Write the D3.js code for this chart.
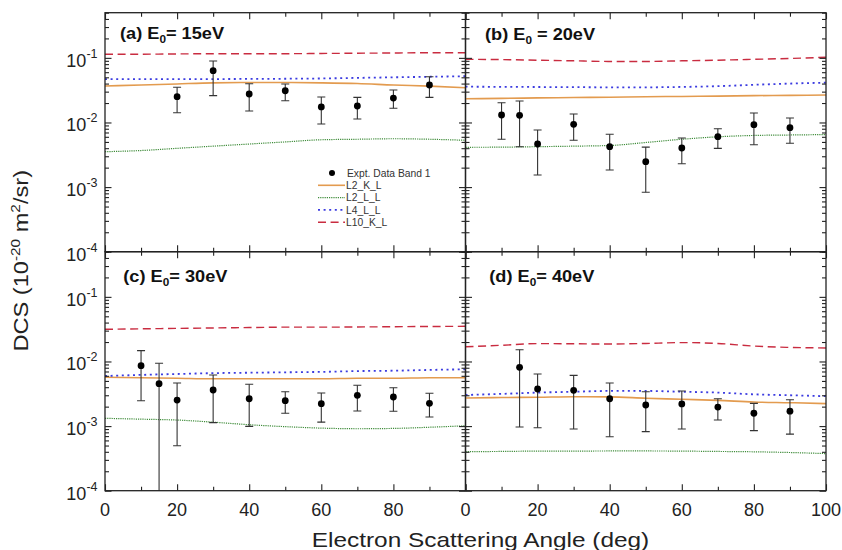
<!DOCTYPE html>
<html>
<head>
<meta charset="utf-8">
<script src="https://cdn.jsdelivr.net/npm/d3@7"></script>
<style>
  body { margin: 0; background: #fff; }
  svg { display: block; font-family: "Liberation Sans", Arial, Helvetica, sans-serif; }
</style>
</head>
<body>
<svg id="chart" width="842" height="550"></svg>
<script>
// ---- Measured DCS (10^-20 m^2/sr), band 1, with error-bar limits ----
const anglesA = [20, 30, 40, 50, 60, 70, 80, 90];
const dcsA    = [0.0251, 0.0633, 0.0276, 0.031, 0.0174, 0.018, 0.0239, 0.038];
const errHiA  = [0.035, 0.0894, 0.0398, 0.0394, 0.0248, 0.0245, 0.0318, 0.051];
const errLoA  = [0.01416, 0.026, 0.01506, 0.0217, 0.00946, 0.0113, 0.01656, 0.0245];

const anglesB = [10, 15, 20, 30, 40, 50, 60, 70, 80, 90];
const dcsB    = [0.01305, 0.0129, 0.00464, 0.00937, 0.00422, 0.00247, 0.00403, 0.00602, 0.00924, 0.0083];
const errHiB  = [0.0202, 0.0215, 0.00764, 0.0135, 0.00656, 0.00416, 0.00575, 0.00801, 0.014, 0.0117];
const errLoB  = [0.0055, 0.00422, 0.00154, 0.0053, 0.00184, 0.00083, 0.0023, 0.00398, 0.00453, 0.00476];

const anglesC = [10, 15, 20, 30, 40, 50, 60, 70, 80, 90];
const dcsC    = [0.00861, 0.00453, 0.00253, 0.00362, 0.00265, 0.00247, 0.00222, 0.00299, 0.00282, 0.00225];
const errHiC  = [0.0147, 0.00937, 0.00464, 0.00618, 0.00443, 0.0034, 0.00325, 0.00428, 0.00393, 0.00322];
const errLoC  = [0.00247, 0.00005, 0.000497, 0.00113, 0.00099, 0.00158, 0.00115, 0.00171, 0.0017, 0.00138];

const anglesD = [15, 20, 30, 40, 50, 60, 70, 80, 90];
const dcsD    = [0.00813, 0.00375, 0.00358, 0.00265, 0.00212, 0.0022, 0.00197, 0.00158, 0.0017];
const errHiD  = [0.0152, 0.0064, 0.0061, 0.00464, 0.0034, 0.00349, 0.00265, 0.00225, 0.00256];
const errLoD  = [0.00097, 0.00094, 0.0009, 0.000685, 0.00082, 0.0009, 0.00124, 0.00085, 0.00075];

// ---- Model curves, sampled every 10 deg from 0 to 100 ----
const thetaGrid = [0, 10, 20, 30, 40, 50, 60, 70, 80, 90, 100];

const l2klA  = [0.0367, 0.038, 0.0395, 0.041, 0.0415, 0.0415, 0.041, 0.040, 0.038, 0.0365, 0.0345];
const l2llA  = [0.00353, 0.00368, 0.00398, 0.0043, 0.00464, 0.0050, 0.0054, 0.0055, 0.0056, 0.0055, 0.0053];
const l4llA  = [0.047, 0.047, 0.047, 0.047, 0.0472, 0.0475, 0.048, 0.049, 0.050, 0.051, 0.052];
const l10klA = [0.1135, 0.114, 0.115, 0.116, 0.116, 0.116, 0.117, 0.118, 0.119, 0.12, 0.12];

const l2klB  = [0.0233, 0.0236, 0.024, 0.0243, 0.0246, 0.025, 0.0253, 0.0256, 0.026, 0.0263, 0.0266];
const l2llB  = [0.00413, 0.00415, 0.00422, 0.0043, 0.0044, 0.0049, 0.0055, 0.0060, 0.0063, 0.0064, 0.0065];
const l4llB  = [0.0358, 0.0356, 0.0354, 0.0352, 0.035, 0.035, 0.0355, 0.0365, 0.0383, 0.040, 0.0413];
const l10klB = [0.095, 0.094, 0.092, 0.09, 0.088, 0.088, 0.09, 0.092, 0.095, 0.098, 0.102];

const l2klC  = [0.0057, 0.0056, 0.0055, 0.0054, 0.0054, 0.0054, 0.0054, 0.0055, 0.0055, 0.0056, 0.0056];
const l2llC  = [0.00132, 0.00128, 0.00124, 0.00115, 0.00105, 0.00098, 0.00093, 0.00091, 0.00092, 0.00096, 0.00101];
const l4llC  = [0.00596, 0.0062, 0.0064, 0.0066, 0.0067, 0.0068, 0.0069, 0.0071, 0.0072, 0.0074, 0.00757];
const l10klC = [0.0315, 0.032, 0.0325, 0.033, 0.0335, 0.034, 0.034, 0.0342, 0.0345, 0.0348, 0.035];

const l2klD  = [0.00272, 0.00277, 0.0028, 0.00285, 0.00283, 0.0027, 0.0026, 0.0025, 0.00236, 0.0023, 0.00223];
const l2llD  = [0.000402, 0.000405, 0.00041, 0.00041, 0.000412, 0.000412, 0.00041, 0.000405, 0.0004, 0.00039, 0.000375];
const l4llD  = [0.00303, 0.00315, 0.0033, 0.0034, 0.0035, 0.0035, 0.0034, 0.0033, 0.0031, 0.003, 0.0029];
const l10klD = [0.0169, 0.0178, 0.0189, 0.0188, 0.0186, 0.019, 0.0196, 0.019, 0.0173, 0.0165, 0.0162];

const modelNames = ["L2_K_L", "L2_L_L", "L4_L_L", "L10_K_L"];
const exptName = "Expt. Data Band 1";
const panelTitles = [
  ["(a) E", "0", "= 15eV"],
  ["(b) E", "0", " = 20eV"],
  ["(c) E", "0", "= 30eV"],
  ["(d) E", "0", "= 40eV"]
];
const xDomain = [0, 100];
const yDomain = [1e-4, 0.5];
const xMajorTicks = [0, 20, 40, 60, 80, 100];
const xMinorTicks = [10, 30, 50, 70, 90];
const xTitle = "Electron Scattering Angle (deg)";

// ---- layout ----
const colX = [[105, 465.5], [465.5, 826]];
const rowY = [[12.7, 251.7], [251.7, 490.7]];
const titleOffset = [[15, 26.6], [19.5, 27.3], [18.3, 30], [23.8, 30]];

const modelStyle = [
  { stroke: "#e39b4f", width: 1.6, dash: null },
  { stroke: "#3f8c3a", width: 1.2, dash: "1.2,1" },
  { stroke: "#3b3be0", width: 1.8, dash: "2,3.6" },
  { stroke: "#c92c40", width: 1.4, dash: "8,4.6" }
];

const panels = [
  { col: 0, row: 0, angles: anglesA, dcs: dcsA, hi: errHiA, lo: errLoA, models: [l2klA, l2llA, l4llA, l10klA] },
  { col: 1, row: 0, angles: anglesB, dcs: dcsB, hi: errHiB, lo: errLoB, models: [l2klB, l2llB, l4llB, l10klB] },
  { col: 0, row: 1, angles: anglesC, dcs: dcsC, hi: errHiC, lo: errLoC, models: [l2klC, l2llC, l4llC, l10klC] },
  { col: 1, row: 1, angles: anglesD, dcs: dcsD, hi: errHiD, lo: errLoD, models: [l2klD, l2llD, l4llD, l10klD] }
];

const svg = d3.select("#chart");
const defs = svg.append("defs");
const ink = "#222";

panels.forEach((p, i) => {
  const [x0, x1] = colX[p.col];
  const [y0, y1] = rowY[p.row];
  const x = d3.scaleLinear().domain(xDomain).range([x0, x1]);
  const y = d3.scaleLog().domain(yDomain).range([y1, y0]);
  const g = svg.append("g");

  defs.append("clipPath").attr("id", "clip" + i)
    .append("rect").attr("x", x0).attr("y", y0).attr("width", x1 - x0).attr("height", y1 - y0);
  const plot = g.append("g").attr("clip-path", `url(#clip${i})`);

  // model curves
  p.models.forEach((vals, m) => {
    const st = modelStyle[m];
    const line = d3.line()
      .x((d, k) => x(thetaGrid[k]))
      .y(d => y(d))
      .curve(d3.curveMonotoneX);
    plot.append("path")
      .attr("d", line(vals))
      .attr("fill", "none")
      .attr("stroke", st.stroke)
      .attr("stroke-width", st.width)
      .attr("stroke-dasharray", st.dash);
  });

  // error bars
  const capW = 4;
  const eb = plot.append("g").attr("stroke", "#333").attr("stroke-width", 1.1);
  p.angles.forEach((a, k) => {
    const cx = x(a);
    eb.append("line").attr("x1", cx).attr("x2", cx).attr("y1", y(p.hi[k])).attr("y2", y(p.lo[k]));
    eb.append("line").attr("x1", cx - capW).attr("x2", cx + capW).attr("y1", y(p.hi[k])).attr("y2", y(p.hi[k]));
    eb.append("line").attr("x1", cx - capW).attr("x2", cx + capW).attr("y1", y(p.lo[k])).attr("y2", y(p.lo[k]));
  });

  // data points
  plot.selectAll("circle.pt").data(p.angles).join("circle")
    .attr("class", "pt")
    .attr("cx", d => x(d))
    .attr("cy", (d, k) => y(p.dcs[k]))
    .attr("r", 3.4)
    .attr("fill", "#000");

  // inward ticks on all four sides
  const yAll = y.ticks();
  const isDecade = v => Math.abs(Math.log10(v) - Math.round(Math.log10(v))) < 1e-9;
  const yMajor = yAll.filter(isDecade);
  const yMinor = yAll.filter(v => !isDecade(v));
  const tickAxes = [
    [d3.axisBottom(x), `translate(0,${y1})`, xMajorTicks, xMinorTicks],
    [d3.axisTop(x), `translate(0,${y0})`, xMajorTicks, xMinorTicks],
    [d3.axisLeft(y), `translate(${x0},0)`, yMajor, yMinor],
    [d3.axisRight(y), `translate(${x1},0)`, yMajor, yMinor]
  ];
  tickAxes.forEach(([ax, tr, major, minor]) => {
    [[major, 6.5], [minor, 4]].forEach(([vals, len]) => {
      const ag = g.append("g").attr("transform", tr)
        .call(ax.tickValues(vals).tickSize(-len).tickFormat(""));
      ag.select(".domain").remove();
      ag.selectAll("line").attr("stroke", ink).attr("stroke-width", 1.1);
    });
  });

  // frame
  g.append("rect").attr("x", x0).attr("y", y0).attr("width", x1 - x0).attr("height", y1 - y0)
    .attr("fill", "none").attr("stroke", ink).attr("stroke-width", 1.3);

  // y tick labels (left column only)
  if (p.col === 0) {
    yMajor.forEach(v => {
      const t = g.append("text")
        .attr("x", 97.5).attr("y", y(v) + 9)
        .attr("text-anchor", "end")
        .attr("font-size", 18).attr("fill", "#222");
      t.append("tspan").text("10");
      t.append("tspan").attr("font-size", 12.5).attr("dy", -9).text(String(Math.round(Math.log10(v))));
    });
  }

  // x tick labels (bottom row only)
  if (p.row === 1) {
    const labs = p.col === 0 ? xMajorTicks.slice(0, -1) : xMajorTicks;
    labs.forEach(v => {
      g.append("text").attr("x", x(v)).attr("y", 516)
        .attr("text-anchor", "middle").attr("font-size", 18).attr("fill", "#222")
        .text(v);
    });
  }

  // panel title, slightly widened
  const [tpre, tsub, tpost] = panelTitles[i];
  const tt = g.append("text")
    .attr("transform", `translate(${x0 + titleOffset[i][0]},${y0 + titleOffset[i][1]}) scale(1.07,1)`)
    .attr("font-size", 17).attr("font-weight", "bold").attr("fill", "#111");
  tt.append("tspan").text(tpre);
  tt.append("tspan").attr("font-size", 11).attr("dy", 4).text(tsub);
  tt.append("tspan").attr("dy", -4).text(tpost);

  // legend in the first panel
  if (i === 0) {
    const lg = g.append("g").attr("font-size", 10.3).attr("fill", "#333");
    const rowsY = [173, 185.3, 197.6, 209.9, 222.2];
    lg.append("circle").attr("cx", 332).attr("cy", rowsY[0]).attr("r", 3).attr("fill", "#000");
    lg.append("text").attr("x", 347).attr("y", rowsY[0]).attr("dy", "0.35em").text(exptName);
    modelNames.forEach((nm, m) => {
      const st = modelStyle[m];
      lg.append("line").attr("x1", 318).attr("x2", 345)
        .attr("y1", rowsY[m + 1]).attr("y2", rowsY[m + 1])
        .attr("stroke", st.stroke).attr("stroke-width", st.width)
        .attr("stroke-dasharray", st.dash);
      lg.append("text").attr("x", 346).attr("y", rowsY[m + 1]).attr("dy", "0.35em").text(nm);
    });
  }
});

// axis titles, stretched along the text direction
const xt = svg.append("text")
  .attr("text-anchor", "middle").attr("font-size", 20).attr("fill", "#222")
  .text(xTitle);
const xLen = xt.node().getComputedTextLength();
xt.attr("transform", `translate(480.5,546.5) scale(${337.6 / xLen},1)`);

const yt = svg.append("text")
  .attr("text-anchor", "middle").attr("font-size", 20).attr("fill", "#222");
yt.append("tspan").text("DCS (10");
yt.append("tspan").attr("font-size", 13).attr("dy", -8).text("-20");
yt.append("tspan").attr("dy", 8).text(" m");
yt.append("tspan").attr("font-size", 13).attr("dy", -8).text("2");
yt.append("tspan").attr("dy", 8).text("/sr)");
const yLen = yt.node().getComputedTextLength();
yt.attr("transform", `translate(27.5,260.8) rotate(-90) scale(${181.7 / yLen},1)`);
</script>
</body>
</html>
